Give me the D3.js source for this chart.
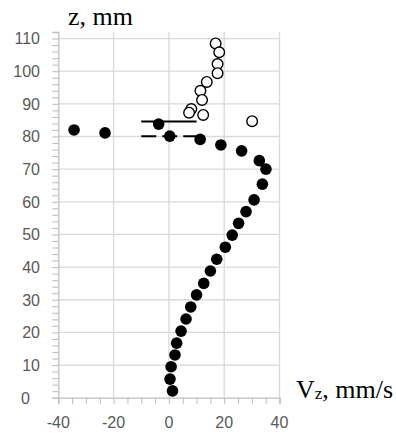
<!DOCTYPE html>
<html><head><meta charset="utf-8">
<script src="https://cdn.jsdelivr.net/npm/d3@7"></script>
<style>body{margin:0;background:#fff}svg{display:block}</style>
</head><body>
<script>
// Data
const filledV = [1.3,0.4,0.8,2.2,2.8,4.4,6.2,7.9,10.0,12.6,15.0,17.3,20.4,22.9,25.2,27.9,30.8,33.8,35.1,32.7,26.3,18.8,11.3,0.3,-3.7,-23.1,-34.3];
const filledZ = [2.1,5.7,9.5,13.1,16.7,20.4,24.1,27.8,31.5,35.0,38.8,42.4,46.1,49.8,53.4,57.0,60.6,65.4,70.0,72.6,75.6,77.4,79.1,80.1,83.8,81.1,82.0];
const openV = [16.9,18.2,17.6,17.6,13.7,11.4,12.0,8.1,7.3,12.4,30.1];
const openZ = [108.5,105.8,102.2,99.4,96.7,94.0,91.2,88.4,87.3,86.6,84.7];
const solidLineV = [-10,10], solidLineZ = [84.6,84.6];
const dashLineV = [-10,10], dashLineZ = [80.1,80.1];
const xTicks = [-40,-20,0,20,40];
const yTicks = [0,10,20,30,40,50,60,70,80,90,100,110];
const xMinor = d3.range(-40,41,5);
const yMinor = d3.range(0,113,2);

const W=396,H=436;
const svg=d3.select("body").append("svg").attr("width",W).attr("height",H);
const x=d3.scaleLinear().domain([-40,40]).range([58.3,279.5]);
const y=d3.scaleLinear().domain([0,112]).range([397.7,32]);
const gridC="#d9d9d9", axC="#bfbfbf", txtC="#595959";

// grid
svg.append("g").selectAll("line").data(yTicks.filter(d=>d>0)).join("line")
 .attr("x1",x(-40)).attr("x2",x(40)).attr("y1",d=>y(d)).attr("y2",d=>y(d)).attr("stroke",gridC).attr("stroke-width",1.3);
svg.append("g").selectAll("line").data(xTicks.filter(d=>d>-40)).join("line")
 .attr("y1",y(0)).attr("y2",y(112)).attr("x1",d=>x(d)).attr("x2",d=>x(d)).attr("stroke",gridC).attr("stroke-width",1.3);

// minor ticks via axes
const gx=svg.append("g").attr("transform",`translate(0,${y(0)})`)
 .call(d3.axisBottom(x).tickValues(xMinor).tickSize(6).tickFormat(""));
const gy=svg.append("g").attr("transform",`translate(${x(-40)},0)`)
 .call(d3.axisLeft(y).tickValues(yMinor).tickSize(6).tickFormat(""));
[gx,gy].forEach(g=>{g.selectAll("path").attr("stroke",axC).attr("stroke-width",1.3);g.selectAll("line").attr("stroke",axC).attr("stroke-width",1.1);});

// tick labels
const font="'Liberation Sans', Arial, sans-serif";
svg.append("g").selectAll("text").data(xTicks).join("text")
 .attr("x",d=>x(d)).attr("y",428).attr("text-anchor","middle")
 .attr("font-family",font).attr("font-size",16).attr("fill",txtC).text(d=>d);
svg.append("g").selectAll("text").data(yTicks).join("text")
 .attr("x",d=>d===0?30:40).attr("y",d=>y(d)+5.8).attr("text-anchor","end")
 .attr("font-family",font).attr("font-size",16).attr("fill",txtC).text(d=>d);

// axis titles
const serif="'Liberation Serif','Times New Roman',serif";
svg.append("text").attr("x",68).attr("y",25).attr("font-family",serif).attr("font-size",26).attr("fill","#000").text("z, mm");
const vt=svg.append("text").attr("x",296).attr("y",398).attr("font-family",serif).attr("font-size",26).attr("fill","#000");
vt.append("tspan").text("V");
vt.append("tspan").attr("font-size",17).attr("dy",1).text("z");
vt.append("tspan").attr("dy",-1).text(", mm/s");

// lines
const line=d3.line().x(d=>x(d[0])).y(d=>y(d[1]));
svg.append("path").attr("d",line(d3.zip(solidLineV,solidLineZ))).attr("stroke","#000").attr("stroke-width",2).attr("fill","none");
svg.append("path").attr("d",line(d3.zip(dashLineV,dashLineZ))).attr("stroke","#000").attr("stroke-width",2).attr("fill","none").attr("stroke-dasharray","15,6");

// points
svg.append("g").selectAll("circle").data(d3.zip(openV,openZ)).join("circle")
 .attr("cx",d=>x(d[0])).attr("cy",d=>y(d[1])).attr("r",5.3).attr("fill","#fff").attr("stroke","#000").attr("stroke-width",1.4);
svg.append("g").selectAll("circle").data(d3.zip(filledV,filledZ)).join("circle")
 .attr("cx",d=>x(d[0])).attr("cy",d=>y(d[1])).attr("r",5.8).attr("fill","#000");
</script>
</body></html>
